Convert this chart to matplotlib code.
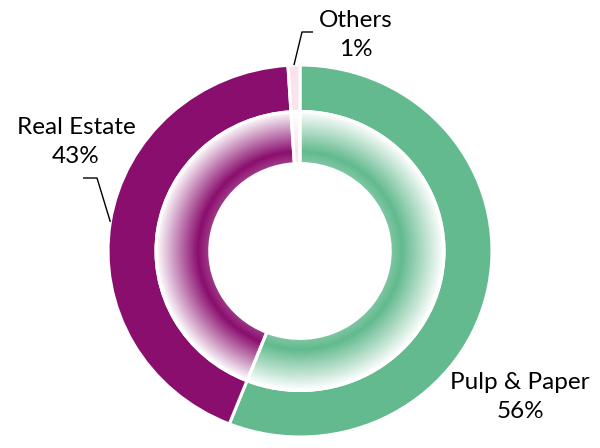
import numpy as np
import matplotlib
matplotlib.use("Agg")
import matplotlib.pyplot as plt
from matplotlib.colors import to_rgb

categories = ["Pulp & Paper", "Real Estate", "Others"]
shares = [56, 43, 1]
label_texts = ["Pulp & Paper\n56%", "Real Estate\n43%", "Others\n1%"]
colors = ["#62BA8E", "#8A0E6E", "#FBE3EC"]

W, H = 600, 448
CX, CY = 300, 251          # centre of the ring in pixels (from top)
RX, RY = 192, 186          # pixel size of one data unit

fig = plt.figure(figsize=(W / 100, H / 100), dpi=100)
ax = fig.add_axes([0, 0, 1, 1])

def px2data(px, py):
    return (px - CX) / RX, (CY - py) / RY

outer, _ = ax.pie(shares, radius=1.0, startangle=90, counterclock=False,
                  colors=colors,
                  wedgeprops=dict(width=0.25, edgecolor="white", linewidth=2.2))
inner, _ = ax.pie(shares, radius=0.75, startangle=90, counterclock=False,
                  colors=["none"] * len(shares),
                  wedgeprops=dict(width=0.28, edgecolor="white", linewidth=2.2))

# radial gradient fill for the inner ring
n = 500
lim = 0.78
xs = np.linspace(-lim, lim, n)
X, Y = np.meshgrid(xs, xs)
R = np.hypot(X, Y)
r_in, r_out = 0.47, 0.75
u = np.clip((R - r_in) / (r_out - r_in), 0, 1)
peak = 0.22
t = np.where(u < peak, 0.8 + 0.2 * u / peak, 1 - (u - peak) / (1 - peak))
t = np.clip(t, 0, 1)
for w, c in zip(inner, colors):
    rgb = np.array(to_rgb(c))
    img = np.ones((n, n, 3)) * (1 - t[..., None]) + rgb * t[..., None]
    im = ax.imshow(img, extent=(-lim, lim, -lim, lim), origin="lower",
                   interpolation="bilinear", zorder=0.5)
    im.set_clip_path(w)

ax.set_aspect("auto")
x0, y0 = px2data(0, H)
x1, y1 = px2data(W, 0)
ax.set_xlim(x0, x1)
ax.set_ylim(y0, y1)
ax.axis("off")

font = dict(family=["Lato", "DejaVu Sans"], fontsize=17.5, color="black")

# label positions (pixels) and leader elbows
label_px = {"Pulp & Paper": (520, 397), "Real Estate": (76, 142), "Others": (356, 35)}
elbows = {"Real Estate": [(83, 178), (97, 178)], "Others": [(313, 32), (302, 32)]}

for w, cat, txt in zip(outer, categories, label_texts):
    tx, ty = px2data(*label_px[cat])
    ax.text(tx, ty, txt, ha="center", va="center", multialignment="center",
            linespacing=1.45, **font)
    if cat in elbows:
        mid = np.deg2rad((w.theta1 + w.theta2) / 2)
        ax_, ay_ = w.r * np.cos(mid), w.r * np.sin(mid)
        pts = [px2data(*p) for p in elbows[cat]] + [(ax_, ay_)]
        ax.plot([p[0] for p in pts], [p[1] for p in pts], color="black",
                linewidth=1.0, solid_capstyle="butt")

fig.savefig("out.png", dpi=100)
